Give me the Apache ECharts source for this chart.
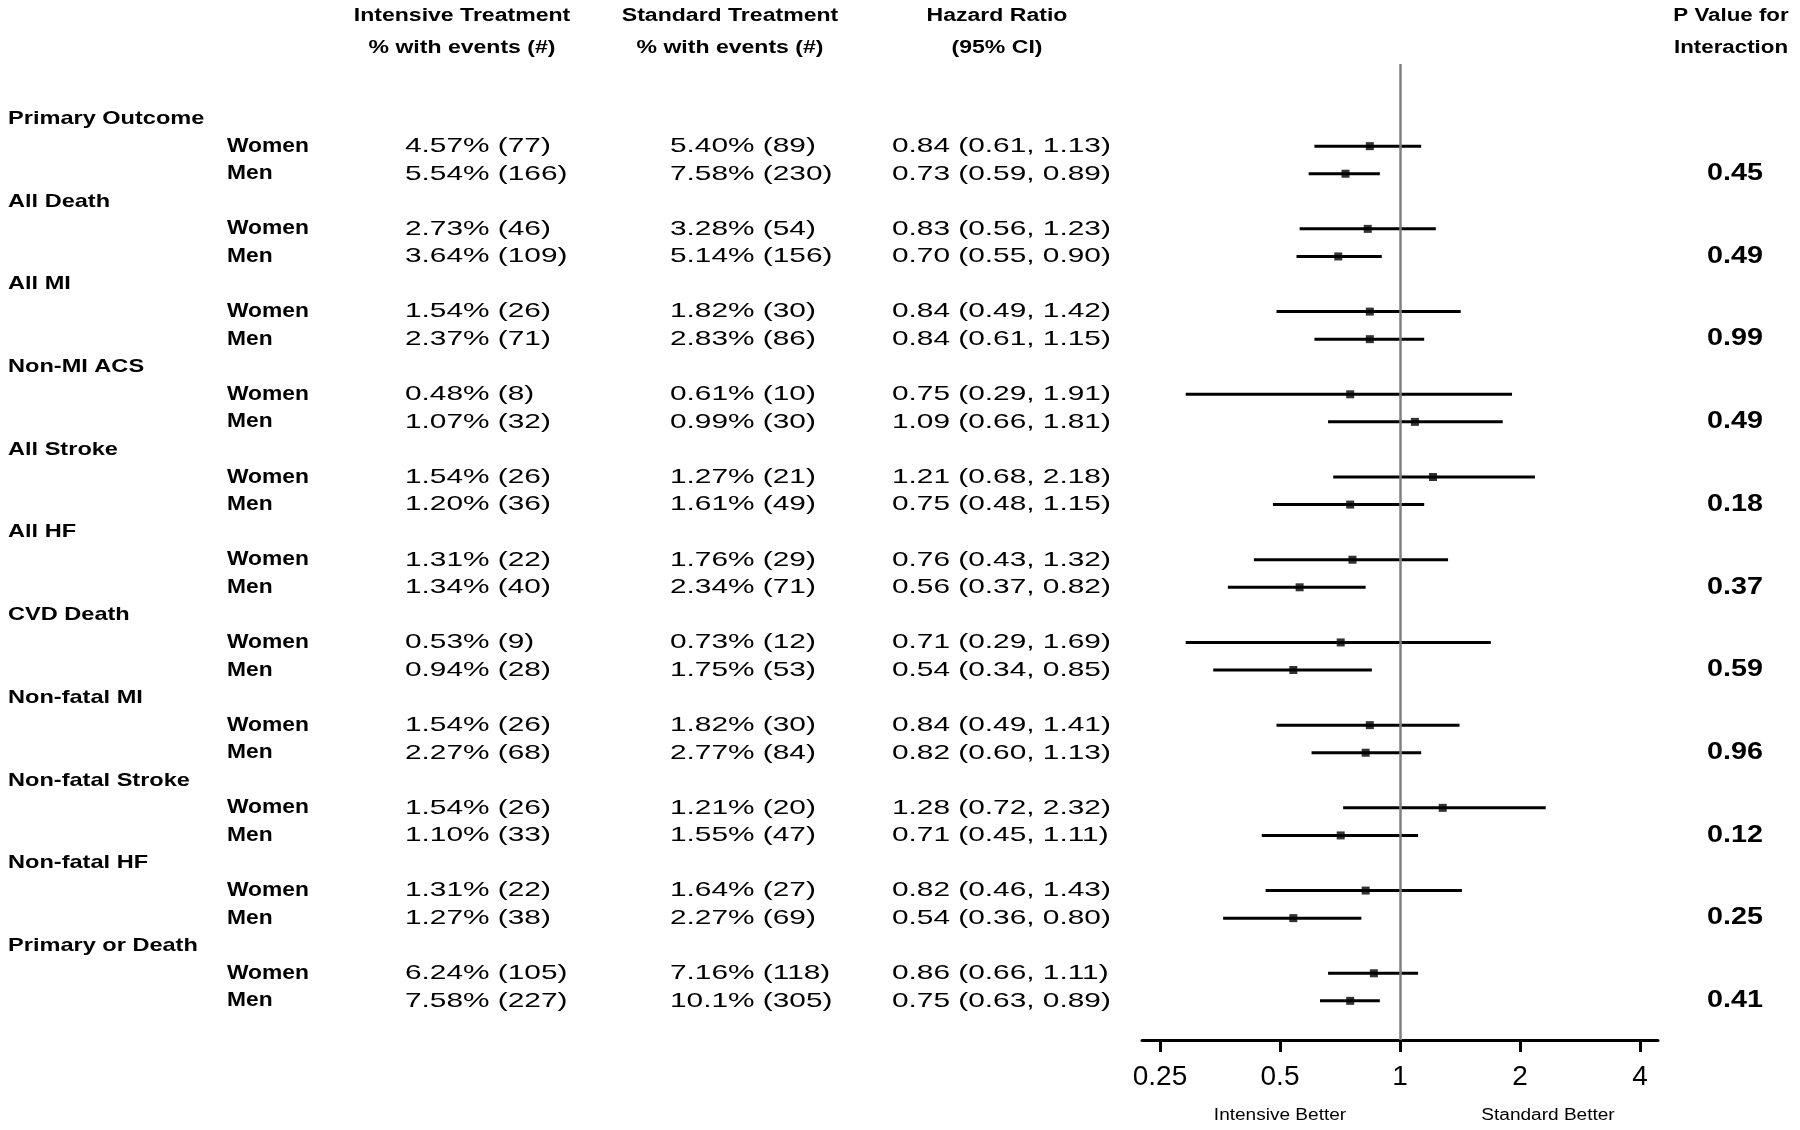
<!DOCTYPE html>
<html>
<head>
<meta charset="utf-8">
<script src="https://cdn.jsdelivr.net/npm/echarts@6/dist/echarts.min.js"></script>
<style>
html,body{margin:0;padding:0;background:#fff;}
#c{width:1800px;height:1130px;}
</style>
</head>
<body>
<div id="c"></div>
<script>
// ---------------- DATA ----------------
const outcomes = ['Primary Outcome','All Death','All MI','Non-MI ACS','All Stroke','All HF','CVD Death','Non-fatal MI','Non-fatal Stroke','Non-fatal HF','Primary or Death'];
const subgroups = ['Women','Men'];

const intensiveWomen = ['4.57% (77)','2.73% (46)','1.54% (26)','0.48% (8)','1.54% (26)','1.31% (22)','0.53% (9)','1.54% (26)','1.54% (26)','1.31% (22)','6.24% (105)'];
const intensiveMen   = ['5.54% (166)','3.64% (109)','2.37% (71)','1.07% (32)','1.20% (36)','1.34% (40)','0.94% (28)','2.27% (68)','1.10% (33)','1.27% (38)','7.58% (227)'];
const standardWomen  = ['5.40% (89)','3.28% (54)','1.82% (30)','0.61% (10)','1.27% (21)','1.76% (29)','0.73% (12)','1.82% (30)','1.21% (20)','1.64% (27)','7.16% (118)'];
const standardMen    = ['7.58% (230)','5.14% (156)','2.83% (86)','0.99% (30)','1.61% (49)','2.34% (71)','1.75% (53)','2.77% (84)','1.55% (47)','2.27% (69)','10.1% (305)'];

const hrWomen  = [0.84,0.83,0.84,0.75,1.21,0.76,0.71,0.84,1.28,0.82,0.86];
const lclWomen = [0.61,0.56,0.49,0.29,0.68,0.43,0.29,0.49,0.72,0.46,0.66];
const uclWomen = [1.13,1.23,1.42,1.91,2.18,1.32,1.69,1.41,2.32,1.43,1.11];
const hrMen    = [0.73,0.70,0.84,1.09,0.75,0.56,0.54,0.82,0.71,0.54,0.75];
const lclMen   = [0.59,0.55,0.61,0.66,0.48,0.37,0.34,0.60,0.45,0.36,0.63];
const uclMen   = [0.89,0.90,1.15,1.81,1.15,0.82,0.85,1.13,1.11,0.80,0.89];

const pValues = ['0.45','0.49','0.99','0.49','0.18','0.37','0.59','0.96','0.12','0.25','0.41'];

const tickValues = [0.25,0.5,1,2,4];
const headerIntensive = ['Intensive Treatment','% with events (#)'];
const headerStandard  = ['Standard Treatment','% with events (#)'];
const headerHR        = ['Hazard Ratio','(95% CI)'];
const headerP         = ['P Value for','Interaction'];
const directionLabels = ['Intensive Better','Standard Better'];

// ---------------- BUILD ----------------
const FONT = '"Liberation Sans", Arial, Helvetica, sans-serif';
const fmt = v => v.toFixed(2);

// column styles (layout only)
const STY = {
  group: {x: 8,   sx: 1.24, font: 'bold 19px ' + FONT, align: 'left'},
  sub:   {x: 227, sx: 1.14, font: 'bold 20px ' + FONT, align: 'left'},
  int:   {x: 405, sx: 1.42, font: '21px ' + FONT, align: 'left'},
  std:   {x: 670, sx: 1.42, font: '21px ' + FONT, align: 'left'},
  hr:    {x: 892, sx: 1.42, font: '21px ' + FONT, align: 'left'},
  p:     {x: 1735, sx: 1.25, font: 'bold 23px ' + FONT, align: 'center'}
};

const textItems = [];
const ciData = [];
const pointData = [];
outcomes.forEach((name, g) => {
  const r0 = 3 * g;
  textItems.push({row: r0, cls: 'group', text: name});
  const sets = [
    {sub: subgroups[0], i: intensiveWomen[g], s: standardWomen[g], hr: hrWomen[g], l: lclWomen[g], u: uclWomen[g]},
    {sub: subgroups[1], i: intensiveMen[g],   s: standardMen[g],   hr: hrMen[g],   l: lclMen[g],   u: uclMen[g]}
  ];
  sets.forEach((d, k) => {
    const r = r0 + 1 + k;
    textItems.push({row: r, cls: 'sub', text: d.sub});
    textItems.push({row: r, cls: 'int', text: d.i});
    textItems.push({row: r, cls: 'std', text: d.s});
    textItems.push({row: r, cls: 'hr',  text: fmt(d.hr) + ' (' + fmt(d.l) + ', ' + fmt(d.u) + ')'});
    ciData.push([d.l, d.u, r]);
    pointData.push([d.hr, r]);
  });
  textItems.push({row: r0 + 2, cls: 'p', text: pValues[g]});
});

function hdr(lines, cx, sx) {
  return lines.map((t, i) => ({
    type: 'text', x: cx, y: i === 0 ? 16 : 48, scaleX: sx, silent: true,
    style: {text: t, fill: '#000', font: 'bold 18px ' + FONT, align: 'center', verticalAlign: 'middle'}
  }));
}

const graphics = [].concat(
  hdr(headerIntensive, 462, 1.28),
  hdr(headerStandard, 730, 1.28),
  hdr(headerHR, 997, 1.28),
  hdr(headerP, 1731, 1.24),
  directionLabels.map((t, i) => ({
    type: 'text', x: i === 0 ? 1280 : 1548, y: 1116, scaleX: 1.19, silent: true,
    style: {text: t, fill: '#000', font: '16px ' + FONT, align: 'center', verticalAlign: 'middle'}
  }))
);

const chart = echarts.init(document.getElementById('c'), null, {renderer: 'canvas'});
chart.setOption({
  backgroundColor: '#fff',
  animation: false,
  grid: {left: 1142, right: 142, top: 64, bottom: 90, containLabel: false, outerBoundsMode: 'none'},
  xAxis: {
    type: 'log', logBase: 2, position: 'bottom',
    min: Math.pow(2, -2.15), max: Math.pow(2, 2.15),
    axisLine: {show: true, onZero: false, lineStyle: {color: '#000', width: 3}},
    axisTick: {show: true, customValues: tickValues, length: 12, lineStyle: {color: '#000', width: 3}},
    axisLabel: {show: true, customValues: tickValues, fontSize: 28, fontFamily: FONT, color: '#000', margin: 23,
      formatter: v => String(+(+v).toPrecision(6))},
    splitLine: {show: false},
    minorTick: {show: false}
  },
  yAxis: {type: 'value', inverse: true, min: -1.98, max: 33.42, show: false, splitLine: {show: false}},
  graphic: {elements: graphics},
  series: [
    {
      type: 'custom', name: 'table', clip: false, silent: true, z: 5,
      data: textItems.map(t => [1, t.row]),
      encode: {x: 0, y: 1},
      renderItem: (params, api) => {
        const t = textItems[params.dataIndex];
        const st = STY[t.cls];
        const y = api.coord([1, api.value(1)])[1];
        return {type: 'text', x: st.x, y: y, scaleX: st.sx,
          style: {text: t.text, fill: '#000', font: st.font, align: st.align, verticalAlign: 'middle'}};
      }
    },
    {
      type: 'custom', name: 'CI', clip: false, silent: true, z: 3,
      data: ciData,
      encode: {x: [0, 1], y: 2},
      renderItem: (params, api) => {
        const p1 = api.coord([api.value(0), api.value(2)]);
        const p2 = api.coord([api.value(1), api.value(2)]);
        return {type: 'line', shape: {x1: p1[0], y1: p1[1], x2: p2[0], y2: p2[1]},
          style: {stroke: '#000', lineWidth: 3}};
      }
    },
    {
      type: 'scatter', name: 'HR', silent: true, z: 4,
      symbol: 'rect', symbolSize: 8,
      itemStyle: {color: '#000'},
      data: pointData,
      markLine: {
        silent: true, symbol: 'none', label: {show: false},
        lineStyle: {color: '#808080', width: 2.5, type: 'solid'},
        data: [{xAxis: 1}]
      }
    }
  ]
});
</script>
</body>
</html>
